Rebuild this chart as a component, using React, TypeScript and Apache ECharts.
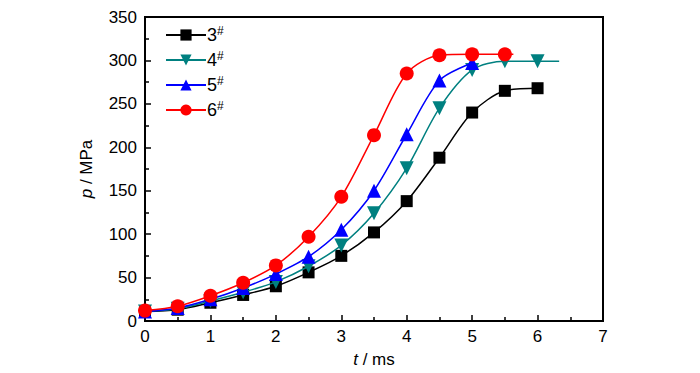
import React, { useEffect, useRef } from "react";
import * as echarts from "echarts";

const names = ["3", "4", "5", "6"];
const colors = ["#000000", "#008080", "#0000ff", "#ff0000"];
const symbols = ["rect", "triangle", "triangle", "circle"];
const t3 = [0, 0.5, 1, 1.5, 2, 2.5, 3, 3.5, 4, 4.5, 5, 5.5, 6];
const p3 = [11, 13, 21, 30, 40, 56, 75, 102, 138, 188, 240, 265, 268];
const t4 = [0, 0.5, 1, 1.5, 2, 2.5, 3, 3.5, 4, 4.5, 5, 5.5, 6, 6.33];
const p4 = [11, 14, 23, 33, 45, 63, 87, 124, 176, 245, 289, 299, 299, 299];
const t5 = [0, 0.5, 1, 1.5, 2, 2.5, 3, 3.5, 4, 4.5, 5];
const p5 = [11, 15, 25, 38, 54, 74, 105, 150, 215, 277, 297];
const t6 = [0, 0.5, 1, 1.5, 2, 2.5, 3, 3.5, 4, 4.5, 5, 5.5, 5.63];
const p6 = [12, 17, 29, 44, 64, 97, 143, 214, 285, 306, 307, 307, 307];
const ts = [t3, t4, t5, t6];
const ps = [p3, p4, p5, p6];
const markerCounts = [13, 13, 11, 12];

export default function App() {
  const ref = useRef<HTMLDivElement>(null);
  useEffect(() => {
    const chart = echarts.init(ref.current!, null, { renderer: "svg" });
    const font = "'Liberation Sans', Arial, sans-serif";
    const series = names.map((n, i) => ({
      name: n,
      type: "line",
      smooth: 0.3,
      symbol: symbols[i],
      symbolRotate: i === 1 ? 180 : 0,
      symbolSize: i === 0 ? 12 : 14,
      itemStyle: { color: colors[i] },
      lineStyle: { color: colors[i], width: 1.5 },
      data: ts[i].map((t, j) =>
        j < markerCounts[i] ? [t, ps[i][j]] : { value: [t, ps[i][j]], symbolSize: 0 }
      ),
      z: 2 + i,
    }));
    chart.setOption({
      animation: false,
      grid: {
        left: 145,
        right: 97,
        top: 17,
        bottom: 51,
        show: true,
        borderColor: "#000",
        borderWidth: 2,
        backgroundColor: "transparent",
      },
      legend: {
        left: 160,
        top: 20,
        orient: "vertical",
        itemWidth: 40,
        itemHeight: 14,
        itemGap: 5,
        data: names,
        formatter: (n: string) => n + "{s|#}",
        textStyle: {
          fontFamily: font,
          fontSize: 18,
          lineHeight: 20,
          color: "#000",
          padding: [0, 0, 0, -4],
          rich: { s: { fontSize: 12, lineHeight: 10, verticalAlign: "top", fontFamily: font } },
        },
      },
      xAxis: {
        type: "value",
        min: 0,
        max: 7,
        interval: 1,
        name: "{i|t} / ms",
        nameLocation: "middle",
        nameGap: 30,
        nameTextStyle: {
          fontFamily: font,
          fontSize: 17,
          color: "#000",
          rich: { i: { fontStyle: "italic", fontSize: 17, fontFamily: font } },
        },
        axisLine: { lineStyle: { color: "#000", width: 2 } },
        axisTick: { inside: true, length: 6, lineStyle: { color: "#000", width: 1.5 } },
        minorTick: { show: true, splitNumber: 2, length: 4, lineStyle: { color: "#000", width: 1.5 } },
        splitLine: { show: false },
        axisLabel: { fontFamily: font, fontSize: 17, color: "#000", margin: 7 },
      },
      yAxis: {
        type: "value",
        min: 0,
        max: 350,
        interval: 50,
        name: "{i|p} / MPa",
        nameLocation: "middle",
        nameGap: 50,
        nameTextStyle: {
          fontFamily: font,
          fontSize: 17,
          color: "#000",
          rich: { i: { fontStyle: "italic", fontSize: 17, fontFamily: font } },
        },
        axisLine: { lineStyle: { color: "#000", width: 2 } },
        axisTick: { inside: true, length: 6, lineStyle: { color: "#000", width: 1.5 } },
        minorTick: { show: true, splitNumber: 2, length: 4, lineStyle: { color: "#000", width: 1.5 } },
        splitLine: { show: false },
        axisLabel: { fontFamily: font, fontSize: 17, color: "#000", margin: 8 },
      },
      series,
    });
    return () => chart.dispose();
  }, []);
  return <div ref={ref} style={{ width: 700, height: 373, margin: -8 }} />;
}
